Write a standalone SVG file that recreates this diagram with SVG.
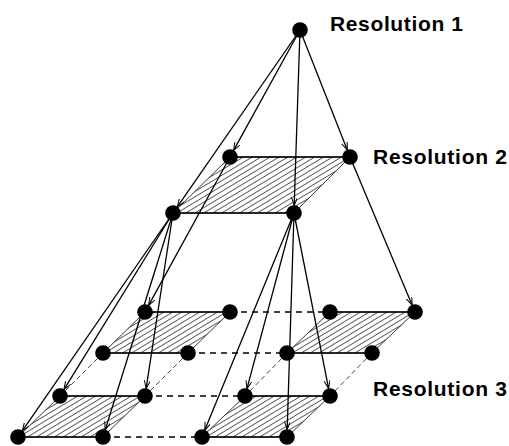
<svg xmlns="http://www.w3.org/2000/svg" width="509" height="446" viewBox="0 0 509 446">
<style>
.quad{fill:url(#hatch);stroke:#222;stroke-width:0.9}
.edge{stroke:#000;stroke-width:1.5;fill:none}
.dash{stroke:#000;stroke-width:1.4;stroke-dasharray:6 5;fill:none}
.tdash{stroke:#333;stroke-width:0.9;stroke-dasharray:5 3;fill:none}
.arrow{stroke:#000;stroke-width:1.3;fill:none;marker-end:url(#arr)}
.node{fill:#000}
.label{font-family:"Liberation Sans",Arial,sans-serif;font-weight:bold;font-size:21px;fill:#000}
</style>
<defs>
<pattern id="hatch" patternUnits="userSpaceOnUse" width="4.6" height="4.6" patternTransform="rotate(-31)">
<line x1="0" y1="2.3" x2="4.6" y2="2.3" stroke="#444" stroke-width="0.85"/>
</pattern>
<marker id="arr" markerUnits="userSpaceOnUse" markerWidth="10" markerHeight="8" refX="8" refY="3" orient="auto">
<path d="M0,0 L8,3 L0,6" fill="none" stroke="#000" stroke-width="1"/>
</marker>
</defs>
<rect width="509" height="446" fill="#fff"/>
<g id="planes">
<polygon class="quad" points="230,157 350,157 294,213 173,213"/>
<polygon class="quad" points="145,312 230,312 188,353 103,353"/>
<polygon class="quad" points="330,312 415,312 372,353 287,353"/>
<polygon class="quad" points="60,396 145,396 103,437 18,437"/>
<polygon class="quad" points="245,396 330,396 287,437 202,437"/>
</g>
<g id="connectors">
<line class="edge" x1="230" y1="157" x2="350" y2="157"/>
<line class="edge" x1="173" y1="213" x2="294" y2="213"/>
<line class="edge" x1="145" y1="312" x2="230" y2="312"/>
<line class="edge" x1="103" y1="353" x2="188" y2="353"/>
<line class="edge" x1="330" y1="312" x2="415" y2="312"/>
<line class="edge" x1="287" y1="353" x2="372" y2="353"/>
<line class="edge" x1="60" y1="396" x2="145" y2="396"/>
<line class="edge" x1="18" y1="437" x2="103" y2="437"/>
<line class="edge" x1="245" y1="396" x2="330" y2="396"/>
<line class="edge" x1="202" y1="437" x2="287" y2="437"/>
<line class="dash" x1="230" y1="312" x2="330" y2="312"/>
<line class="dash" x1="188" y1="353" x2="287" y2="353"/>
<line class="dash" x1="145" y1="396" x2="245" y2="396"/>
<line class="dash" x1="103" y1="437" x2="202" y2="437"/>
<line class="tdash" x1="103" y1="353" x2="60" y2="396"/>
<line class="tdash" x1="188" y1="353" x2="145" y2="396"/>
<line class="tdash" x1="287" y1="353" x2="245" y2="396"/>
<line class="tdash" x1="372" y1="353" x2="330" y2="396"/>
<line class="arrow" x1="300" y1="30" x2="233.6" y2="150.4"/>
<line class="arrow" x1="300" y1="30" x2="347.3" y2="150"/>
<line class="arrow" x1="300" y1="30" x2="177.3" y2="206.8"/>
<line class="arrow" x1="300" y1="30" x2="294.2" y2="205.5"/>
<line class="arrow" x1="230" y1="157" x2="148.6" y2="305.4"/>
<line class="arrow" x1="350" y1="157" x2="412.1" y2="305.1"/>
<line class="arrow" x1="173" y1="213" x2="63.9" y2="389.6"/>
<line class="arrow" x1="173" y1="213" x2="146.1" y2="388.6"/>
<line class="arrow" x1="173" y1="213" x2="22.3" y2="430.8"/>
<line class="arrow" x1="173" y1="213" x2="105.2" y2="429.8"/>
<line class="arrow" x1="294" y1="213" x2="246.9" y2="388.8"/>
<line class="arrow" x1="294" y1="213" x2="328.6" y2="388.6"/>
<line class="arrow" x1="294" y1="213" x2="204.8" y2="430.1"/>
<line class="arrow" x1="294" y1="213" x2="287.2" y2="429.5"/>
</g>
<g id="n-top"><circle class="node" cx="300" cy="30" r="7.8"/></g>
<g id="n-r2-a"><circle class="node" cx="230" cy="157" r="7.8"/></g>
<g id="n-r2-b"><circle class="node" cx="350" cy="157" r="7.8"/></g>
<g id="n-r2-c"><circle class="node" cx="173" cy="213" r="7.8"/></g>
<g id="n-r2-d"><circle class="node" cx="294" cy="213" r="7.8"/></g>
<g id="n-r3-1"><circle class="node" cx="145" cy="312" r="7.8"/></g>
<g id="n-r3-2"><circle class="node" cx="230" cy="312" r="7.8"/></g>
<g id="n-r3-3"><circle class="node" cx="330" cy="312" r="7.8"/></g>
<g id="n-r3-4"><circle class="node" cx="415" cy="312" r="7.8"/></g>
<g id="n-r3-5"><circle class="node" cx="103" cy="353" r="7.8"/></g>
<g id="n-r3-6"><circle class="node" cx="188" cy="353" r="7.8"/></g>
<g id="n-r3-7"><circle class="node" cx="287" cy="353" r="7.8"/></g>
<g id="n-r3-8"><circle class="node" cx="372" cy="353" r="7.8"/></g>
<g id="n-r3-9"><circle class="node" cx="60" cy="396" r="7.8"/></g>
<g id="n-r3-10"><circle class="node" cx="145" cy="396" r="7.8"/></g>
<g id="n-r3-11"><circle class="node" cx="245" cy="396" r="7.8"/></g>
<g id="n-r3-12"><circle class="node" cx="330" cy="396" r="7.8"/></g>
<g id="n-r3-13"><circle class="node" cx="18" cy="437" r="7.8"/></g>
<g id="n-r3-14"><circle class="node" cx="103" cy="437" r="7.8"/></g>
<g id="n-r3-15"><circle class="node" cx="202" cy="437" r="7.8"/></g>
<g id="n-r3-16"><circle class="node" cx="287" cy="437" r="7.8"/></g>
<g id="labels">
<text class="label" x="330" y="31" textLength="133" lengthAdjust="spacing">Resolution 1</text>
<text class="label" x="373" y="164" textLength="134" lengthAdjust="spacing">Resolution 2</text>
<text class="label" x="373" y="396" textLength="134" lengthAdjust="spacing">Resolution 3</text>
</g>
</svg>
